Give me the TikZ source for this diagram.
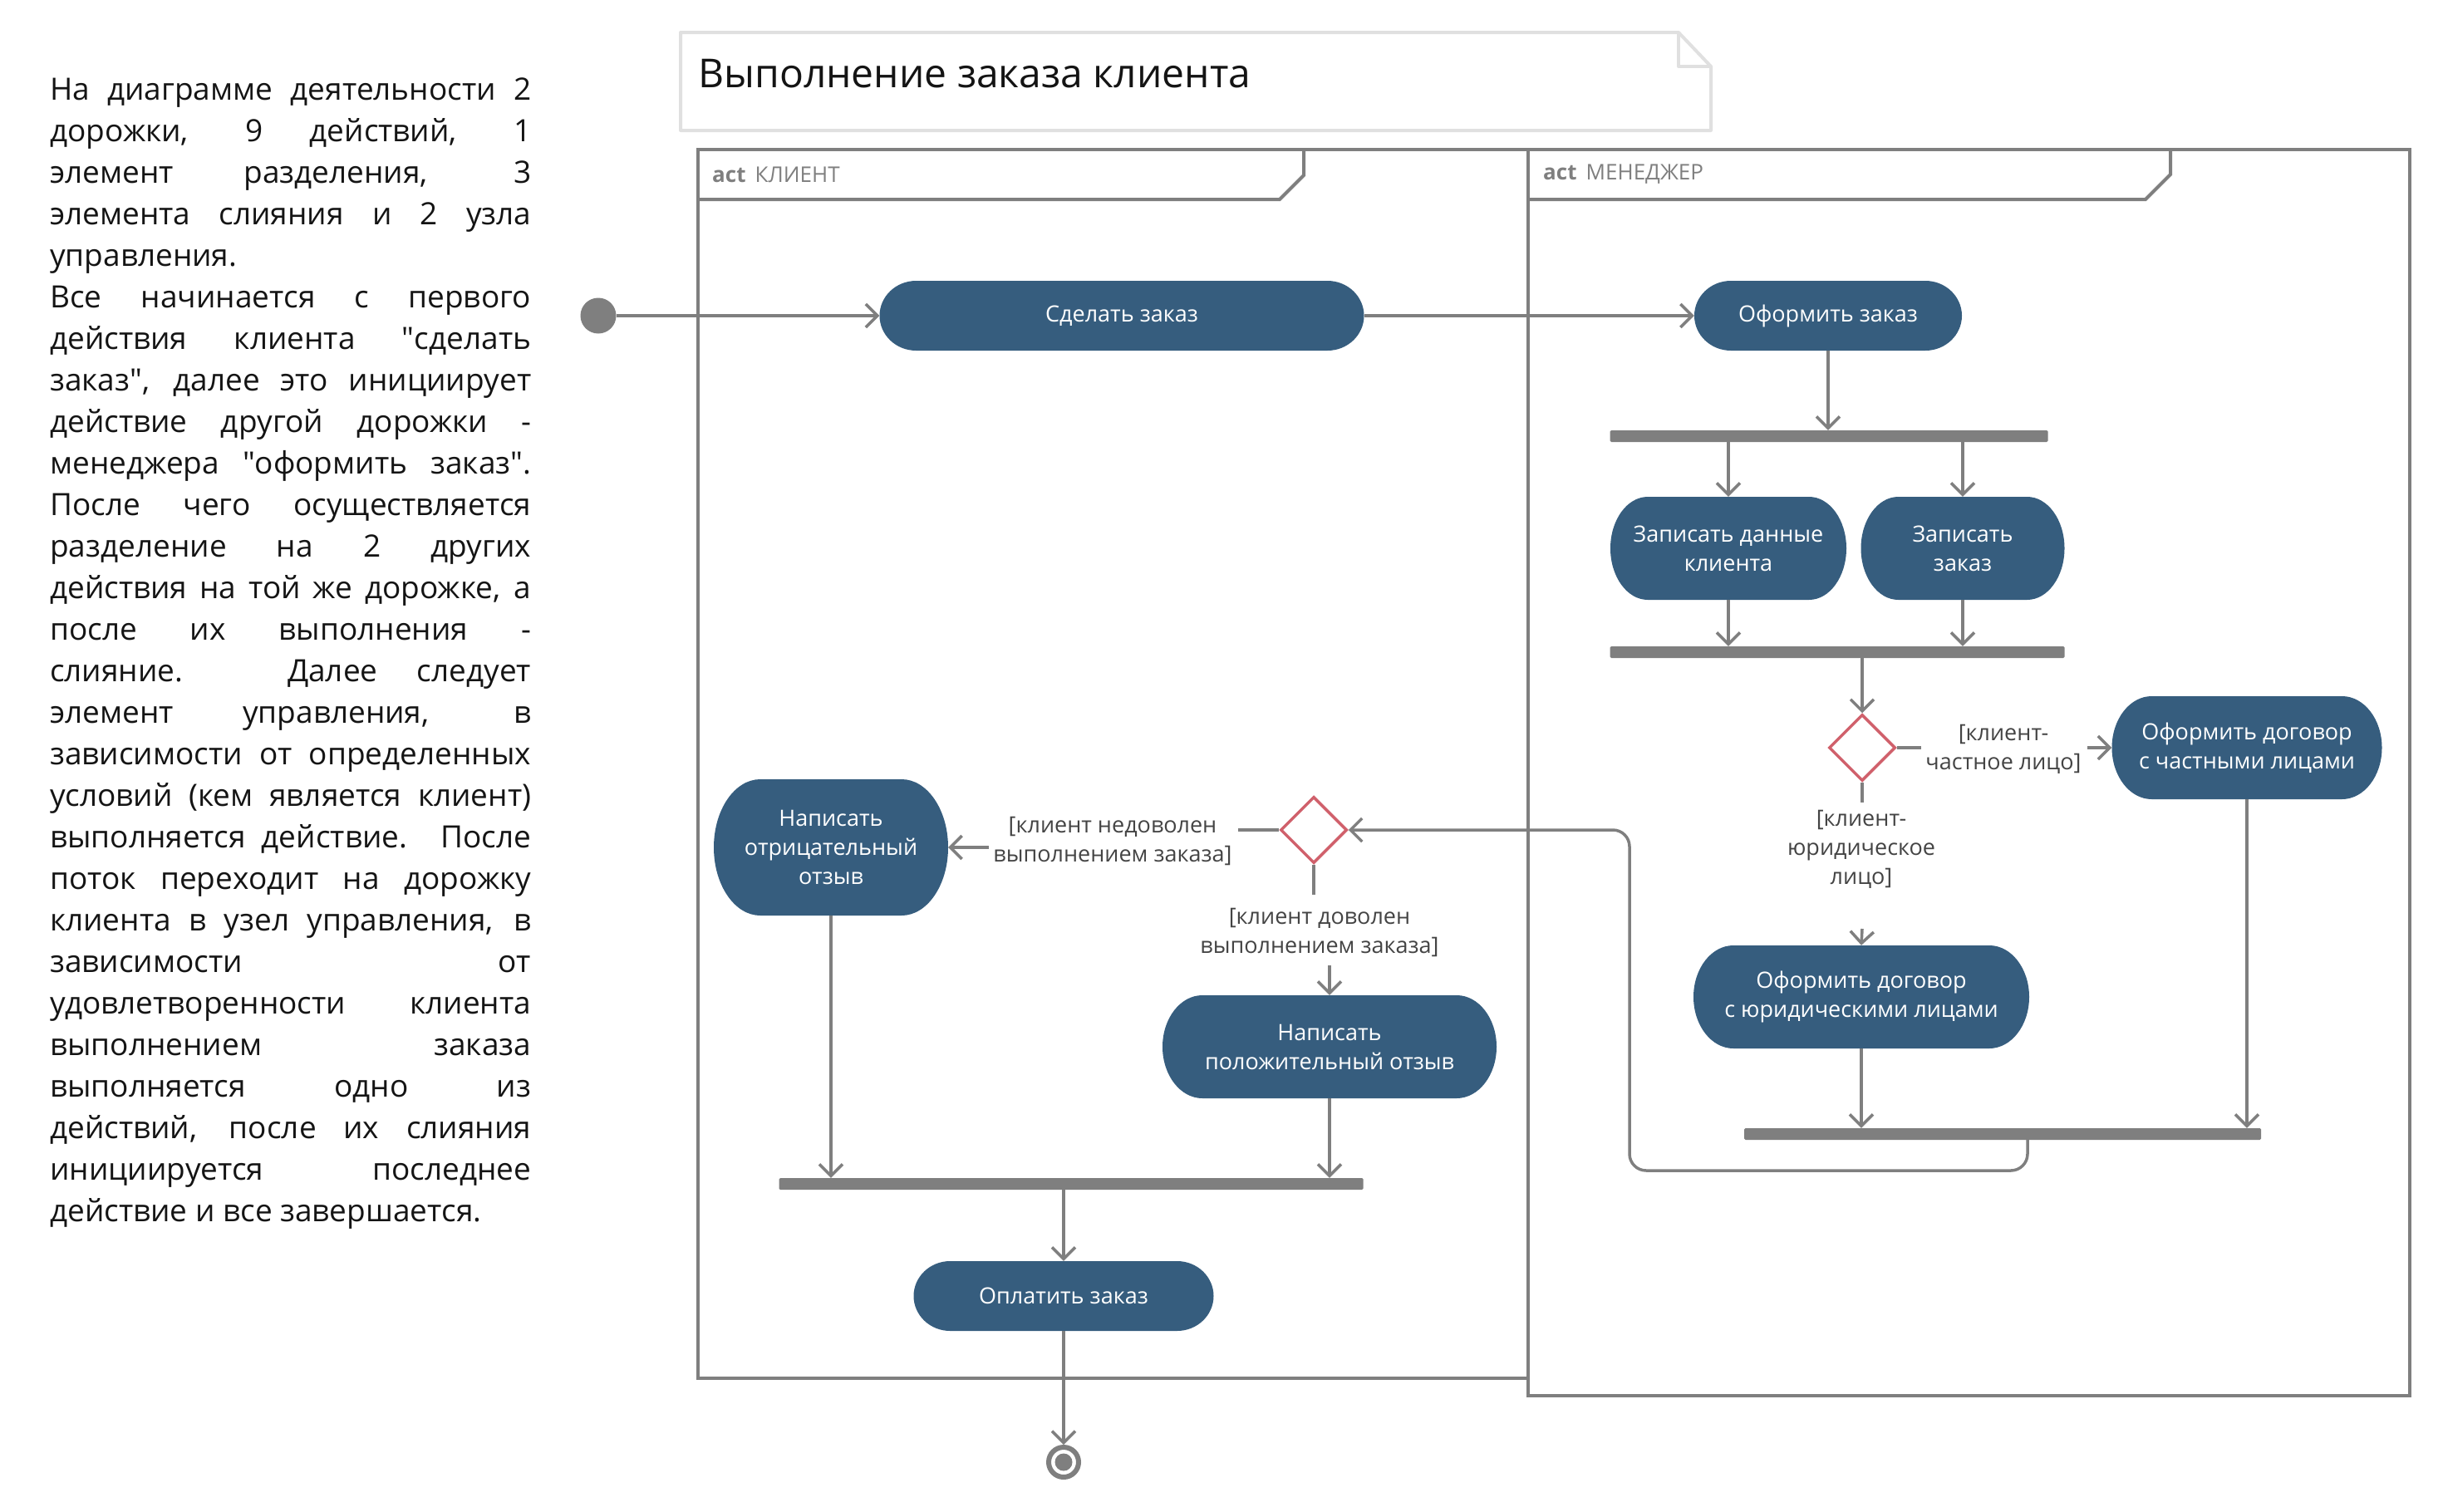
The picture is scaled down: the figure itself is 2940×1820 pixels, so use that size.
\documentclass[tikz,border=0pt]{standalone}
\usepackage{fontspec}
\setmainfont{Open Sans}
\usetikzlibrary{arrows.meta,calc,shapes.geometric}
\definecolor{actcol}{RGB}{54,93,126}
\definecolor{lncol}{RGB}{127,127,127}
\definecolor{dcol}{RGB}{208,96,107}
\definecolor{notecol}{RGB}{224,224,224}
\definecolor{guardcol}{RGB}{68,68,68}
\definecolor{txtcol}{RGB}{20,20,20}
\tikzset{
  flow/.style={draw=lncol, line width=3.5pt},
  arr/.style={flow, -{Straight Barb[length=14pt,width=28pt]}},
  frame/.style={draw=lncol, line width=4pt},
  act/.style={rectangle, inner sep=0pt, text=white, align=center,
    font=\fontsize{27}{35}\selectfont,
    path picture={\fill[actcol] let \p1=(path picture bounding box.north west),
      \p2=(path picture bounding box.south east), \n1={(\y1-\y2)/2} in
      (\x1+#1,\y1) -- (\x2-#1,\y1)
      arc[start angle=90,end angle=-90,x radius=#1,y radius=\n1]
      -- (\x1+#1,\y2)
      arc[start angle=270,end angle=90,x radius=#1,y radius=\n1] -- cycle;}},
  act/.default=44pt,
  bar/.style={rectangle, fill=lncol, minimum height=14pt, inner sep=0pt, rounded corners=1.5pt},
  dec/.style={diamond, draw=dcol, fill=white, line width=3.5pt, minimum width=80pt,
    minimum height=80pt, inner sep=0pt},
  guard/.style={align=center, inner sep=0pt, text=guardcol, font=\fontsize{27}{35}\selectfont},
  ptext/.style={anchor=base west, inner sep=0pt, font=\fontsize{37}{50}\selectfont, text=txtcol},
  lane/.style={anchor=west, inner sep=0pt, text=lncol, font=\fontsize{26}{30}\selectfont}
}
\newcommand\pj[3]{\node[ptext] (p#1) at (60,-#2) {\makebox[579pt][s]{#3}};}
\newcommand\pe[3]{\node[ptext] (p#1) at (60,-#2) {#3};}
\newcommand\qd{\textquotedbl}
\begin{document}
\begin{tikzpicture}[x=1pt,y=1pt]
\useasboundingbox (0,0) rectangle (2940,-1820);
% description text
\pj{1}{120}{На диаграмме деятельности 2}
\pj{2}{170}{дорожки, 9 действий, 1}
\pj{3}{220}{элемент разделения, 3}
\pj{4}{270}{элемента слияния и 2 узла}
\pe{5}{320}{управления.}
\pj{6}{370}{Все начинается с первого}
\pj{7}{420}{действия клиента \qd сделать}
\pj{8}{470}{заказ\qd, далее это инициирует}
\pj{9}{520}{действие другой дорожки -}
\pj{10}{570}{менеджера \qd оформить заказ\qd.}
\pj{11}{620}{После чего осуществляется}
\pj{12}{670}{разделение на 2 других}
\pj{13}{720}{действия на той же дорожке, а}
\pj{14}{770}{после их выполнения -}
\pj{15}{820}{слияние. Далее следует}
\pj{16}{870}{элемент управления, в}
\pj{17}{920}{зависимости от определенных}
\pj{18}{970}{условий (кем является клиент)}
\pj{19}{1020}{выполняется действие. После}
\pj{20}{1070}{поток переходит на дорожку}
\pj{21}{1120}{клиента в узел управления, в}
\pj{22}{1170}{зависимости от}
\pj{23}{1220}{удовлетворенности клиента}
\pj{24}{1270}{выполнением заказа}
\pj{25}{1320}{выполняется одно из}
\pj{26}{1370}{действий, после их слияния}
\pj{27}{1420}{инициируется последнее}
\pe{28}{1470}{действие и все завершается.}
% title note
\draw[notecol, line width=4pt, line join=round] (819,-39) -- (2020,-39) -- (2059,-80) -- (2059,-157) -- (819,-157) -- cycle;
\draw[notecol, line width=4pt, line join=round] (2020,-39) -- (2020,-80) -- (2059,-80);
\node[anchor=base west, inner sep=0pt, text=txtcol, font=\fontsize{48}{56}\selectfont] (title) at (840,-105) {Выполнение заказа клиента};
% frames
\draw[frame] (840,-180) rectangle (1839,-1659);
\draw[frame] (1839,-180) rectangle (2900,-1680);
\draw[frame] (840,-240) -- (1540,-240) -- (1569,-211) -- (1569,-180);
\draw[frame] (1839,-240) -- (2582,-240) -- (2612,-210) -- (2612,-180);
\node[lane] (lane1) at (857,-210) {\textbf{act}\,\ КЛИЕНТ};
\node[lane] (lane2) at (1857,-210) {\textbf{act}\,\ МЕНЕДЖЕР};
% nodes
\node[circle, fill=lncol, minimum size=43pt, inner sep=0pt] (init) at (720,-380) {};
\node[act, minimum width=583pt, minimum height=84pt] (make) at (1350,-380) {Сделать заказ};
\node[act, minimum width=322pt, minimum height=84pt] (ofz) at (2200,-380) {Оформить заказ};
\node[bar, minimum width=527pt] (fork1) at (2201,-525) {};
\node[act=45pt, minimum width=284pt, minimum height=124pt] (zd) at (2080,-660) {Записать данные\\клиента};
\node[act=45pt, minimum width=245pt, minimum height=124pt] (zz) at (2362,-660) {Записать\\заказ};
\node[bar, minimum width=547pt] (join2) at (2211,-785) {};
\node[dec] (d1) at (2241,-900) {};
\node[act=48pt, minimum width=325pt, minimum height=124pt] (chast) at (2704,-900) {Оформить договор\\с частными лицами};
\node[guard] (gpriv) at (2411,-902) {[клиент-\\частное лицо]};
\node[guard] (gyur) at (2240,-1022) {[клиент-\\юридическое\\лицо]};
\node[act=48pt, minimum width=404pt, minimum height=124pt] (yur) at (2240,-1200) {Оформить договор\\с юридическими лицами};
\node[bar, minimum width=622pt] (join3) at (2410,-1365) {};
\node[dec] (d2) at (1581,-999) {};
\node[act=56pt, minimum width=282pt, minimum height=164pt] (neg) at (1000,-1020) {Написать\\отрицательный\\отзыв};
\node[guard] (gneg) at (1339,-1012) {[клиент недоволен\\выполнением заказа]};
\node[guard] (gpos) at (1588,-1122) {[клиент доволен\\выполнением заказа]};
\node[act=48pt, minimum width=402pt, minimum height=124pt] (pos) at (1600,-1260) {Написать\\положительный отзыв};
\node[bar, minimum width=703pt] (join4) at (1289,-1425) {};
\node[act, minimum width=361pt, minimum height=84pt] (pay) at (1280,-1560) {Оплатить заказ};
\node[circle, draw=lncol, line width=6pt, minimum size=36pt, inner sep=0pt] (fin) at (1280,-1760) {};
\node[circle, fill=lncol, minimum size=21pt, inner sep=0pt] (fincore) at (fin.center) {};
% break points of labelled connectors
\coordinate (gp1) at (2312,-900);
\coordinate (gp2) at (2512,-900);
\coordinate (gy1) at (2241,-966);
\coordinate (gy2) at (2241,-1118);
\coordinate (gn1) at (1490,-999);
\coordinate (gn2) at (1190,-1020);
\coordinate (gq1) at (1581,-1077);
\coordinate (gq2) at (1600,-1162);
\coordinate (loopr) at (2440,-1409);
\coordinate (loopl) at (1961,-1409);
% connectors
\draw[arr] (init.east) -- (make.west);
\draw[arr] (make.east) -- (ofz.west);
\draw[arr] (ofz.south) -- (ofz.south |- fork1.north);
\draw[arr] (zd.north |- fork1.south) -- (zd.north);
\draw[arr] (zz.north |- fork1.south) -- (zz.north);
\draw[arr] (zd.south) -- (zd.south |- join2.north);
\draw[arr] (zz.south) -- (zz.south |- join2.north);
\draw[arr] (d1.north |- join2.south) -- (d1.north);
\draw[flow] (d1.east) -- (gp1);
\draw[arr] (gp2) -- (chast.west);
\draw[flow] (d1.south) -- (gy1);
\draw[arr] (gy2) -- (yur.north);
\draw[arr] (yur.south) -- (yur.south |- join3.north);
\draw[arr] (chast.south) -- (chast.south |- join3.north);
\draw[arr, rounded corners=20pt] (join3.south -| loopr) -- (loopr) -- (loopl) -- (loopl |- d2.east) -- (d2.east);
\draw[flow] (d2.west) -- (gn1);
\draw[arr] (gn2) -- (neg.east);
\draw[flow] (d2.south) -- (gq1);
\draw[arr] (gq2) -- (pos.north);
\draw[arr] (neg.south) -- (neg.south |- join4.north);
\draw[arr] (pos.south) -- (pos.south |- join4.north);
\draw[arr] (pay.north |- join4.south) -- (pay.north);
\draw[arr] (pay.south) -- (fin.north);
\end{tikzpicture}
\end{document}
